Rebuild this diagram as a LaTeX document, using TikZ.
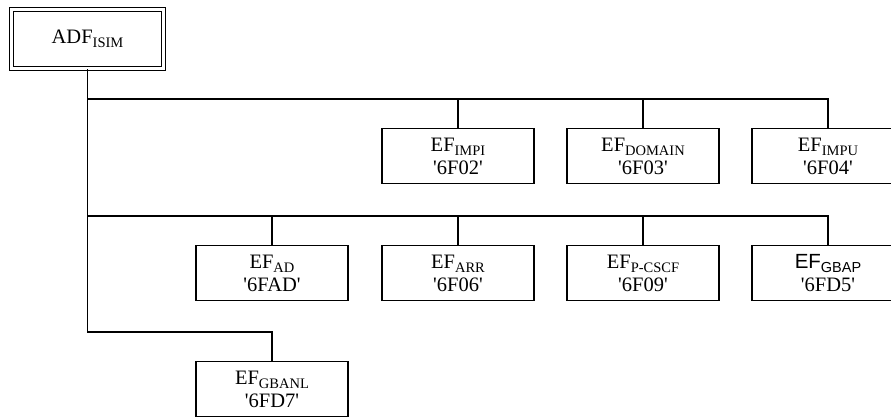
\documentclass[tikz,border=0pt]{standalone}
\usepackage{fontspec}
\setmainfont{Liberation Serif}
\newfontfamily\arialfont{Liberation Sans}
\newcommand{\subtx}[1]{\raisebox{-0.2em}{\fontsize{14.5}{15}\selectfont #1}}
\newcommand{\qt}{\textquotesingle}
\begin{document}
\begin{tikzpicture}[x=1pt,y=-1pt,
  every node/.style={font=\fontsize{20.5}{23}\selectfont},
  efbox/.style={draw,line width=1.3pt,minimum width=152pt,minimum height=55pt,inner sep=0pt,align=center,anchor=north},
  link/.style={line width=1.3pt}]
\clip (0,0) rectangle (891,416);
\node[draw,double,double distance=2.6pt,line width=1.1pt,minimum width=152pt,minimum height=59pt,inner sep=0pt] (adf) at (87.5,39) {ADF\subtx{ISIM}};
% row 1
\node[efbox] (impi) at (458,128) {EF\subtx{IMPI}\\\qt6F02\qt};
\node[efbox] (domain) at (643,128) {EF\subtx{DOMAIN}\\\qt6F03\qt};
\node[efbox] (impu) at (828,128) {EF\subtx{IMPU}\\\qt6F04\qt};
% row 2
\node[efbox] (ad) at (272,245) {EF\subtx{AD}\\\qt6FAD\qt};
\node[efbox] (arr) at (458,245) {EF\subtx{ARR}\\\qt6F06\qt};
\node[efbox] (pcscf) at (643,245) {EF\subtx{P-CSCF}\\\qt6F09\qt};
\node[efbox] (gbap) at (828,245) {{\arialfont EF\subtx{GBAP}}\\\qt6FD5\qt};
% row 3
\node[efbox] (gbanl) at (272,361) {EF\subtx{GBANL}\\\qt6FD7\qt};
% connectors
\coordinate (r1) at (87.5,99);
\coordinate (r2) at (87.5,216);
\coordinate (r3) at (87.5,332);
\draw[link] (adf.south) -- (r3) -| (gbanl.north);
\draw[link] (r1) -| (impu.north);
\draw[link] (impi.north) -- (impi.north |- r1);
\draw[link] (domain.north) -- (domain.north |- r1);
\draw[link] (r2) -| (gbap.north);
\draw[link] (ad.north) -- (ad.north |- r2);
\draw[link] (arr.north) -- (arr.north |- r2);
\draw[link] (pcscf.north) -- (pcscf.north |- r2);
\end{tikzpicture}
\end{document}
